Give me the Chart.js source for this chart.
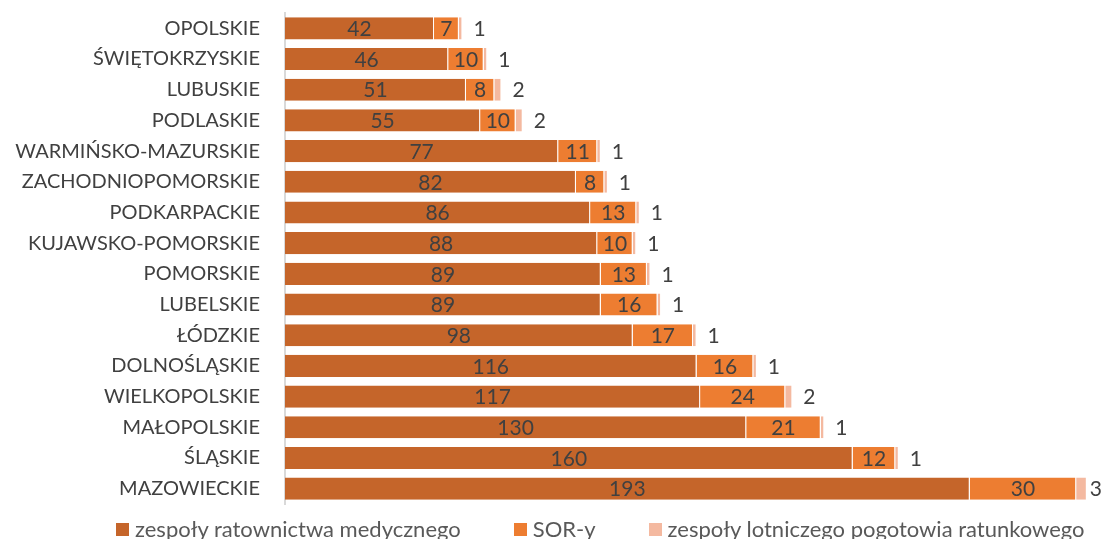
<!DOCTYPE html>
<html>
<head>
<meta charset="utf-8">
<script src="https://cdn.jsdelivr.net/npm/chart.js@4/dist/chart.umd.min.js"></script>
<style>
  html, body { margin: 0; padding: 0; background: #fff; overflow: hidden; }
  #wrap { width: 1104px; height: 539px; position: relative; }
  #legend {
    position: absolute; left: 116px; top: 515px; height: 26px;
    display: flex; align-items: center;
    font-family: Lato, sans-serif; font-size: 22px; color: #595959; white-space: nowrap;
  }
  #legend .item { display: flex; align-items: center; margin-right: 53px; }
  #legend .box { width: 13px; height: 13px; margin-right: 6px; position: relative; top: 1px; }
</style>
</head>
<body>
<div id="wrap">
  <canvas id="chart" width="1104" height="539"></canvas>
  <div id="legend"></div>
</div>
<script>
var regions = ["OPOLSKIE", "ŚWIĘTOKRZYSKIE", "LUBUSKIE", "PODLASKIE", "WARMIŃSKO-MAZURSKIE",
    "ZACHODNIOPOMORSKIE", "PODKARPACKIE", "KUJAWSKO-POMORSKIE", "POMORSKIE", "LUBELSKIE",
    "ŁÓDZKIE", "DOLNOŚLĄSKIE", "WIELKOPOLSKIE", "MAŁOPOLSKIE", "ŚLĄSKIE", "MAZOWIECKIE"];
var zrm = [42, 46, 51, 55, 77, 82, 86, 88, 89, 89, 98, 116, 117, 130, 160, 193];
var sor = [7, 10, 8, 10, 11, 8, 13, 10, 13, 16, 17, 16, 24, 21, 12, 30];
var lpr = [1, 1, 2, 2, 1, 1, 1, 1, 1, 1, 1, 1, 2, 1, 1, 3];
var seriesNames = ["zespoły ratownictwa medycznego", "SOR-y", "zespoły lotniczego pogotowia ratunkowego"];
var seriesColors = ["#C5652A", "#ED7D31", "#F4B9A0"];

var FONT = "Lato";

// value labels: inside for first two series, right of the bar for the last one
var valueLabels = {
    id: "valueLabels",
    afterDatasetsDraw: function(chart) {
        var ctx = chart.ctx;
        ctx.save();
        ctx.font = "21px " + FONT;
        ctx.fillStyle = "#404040";
        ctx.textBaseline = "middle";
        chart.data.datasets.forEach(function(ds, i) {
            var meta = chart.getDatasetMeta(i);
            meta.data.forEach(function(bar, j) {
                var txt = String(ds.data[j]);
                if (i < 2) {
                    ctx.textAlign = "center";
                    ctx.fillText(txt, (bar.x + bar.base) / 2, bar.y + 1);
                } else {
                    ctx.textAlign = "left";
                    var x = Math.min(bar.x + 11, chart.width - ctx.measureText(txt).width - 2);
                    ctx.fillText(txt, x, bar.y + 1);
                }
            });
        });
        ctx.restore();
    }
};

var ctx = document.getElementById("chart").getContext("2d");
var chart = new Chart(ctx, {
    type: "bar",
    data: {
        labels: regions,
        datasets: [
            { label: seriesNames[0], data: zrm, backgroundColor: seriesColors[0] },
            { label: seriesNames[1], data: sor, backgroundColor: seriesColors[1] },
            { label: seriesNames[2], data: lpr, backgroundColor: seriesColors[2] }
        ]
    },
    plugins: [valueLabels],
    options: {
        indexAxis: "y",
        responsive: false,
        animation: false,
        devicePixelRatio: 1,
        layout: { padding: { top: 13, right: 3, left: 0, bottom: 35 } },
        datasets: {
            bar: {
                categoryPercentage: 0.72,
                barPercentage: 1,
                borderColor: "#ffffff",
                borderWidth: { right: 1, top: 0, bottom: 0, left: 0 },
                borderSkipped: false
            }
        },
        scales: {
            x: {
                stacked: true,
                min: 0,
                max: 230,
                display: false
            },
            y: {
                stacked: true,
                grid: {
                    display: true,
                    drawOnChartArea: false,
                    drawTicks: true,
                    tickLength: 25,
                    color: "rgba(0,0,0,0)"
                },
                border: { display: true, color: "#D9D9D9", width: 2 },
                ticks: {
                    color: "#404040",
                    font: { family: FONT, size: 20 },
                    padding: 0,
                    autoSkip: false
                },
                afterFit: function(scale) { scale.width = 285; }
            }
        },
        plugins: {
            tooltip: { enabled: false },
            legend: { display: false }
        }
    }
});

// legend built from the chart's datasets
var legendEl = document.getElementById("legend");
chart.data.datasets.forEach(function(ds) {
    var item = document.createElement("span");
    item.className = "item";
    var box = document.createElement("span");
    box.className = "box";
    box.style.background = ds.backgroundColor;
    var label = document.createElement("span");
    label.textContent = ds.label;
    item.appendChild(box);
    item.appendChild(label);
    legendEl.appendChild(item);
});
</script>
</body>
</html>
